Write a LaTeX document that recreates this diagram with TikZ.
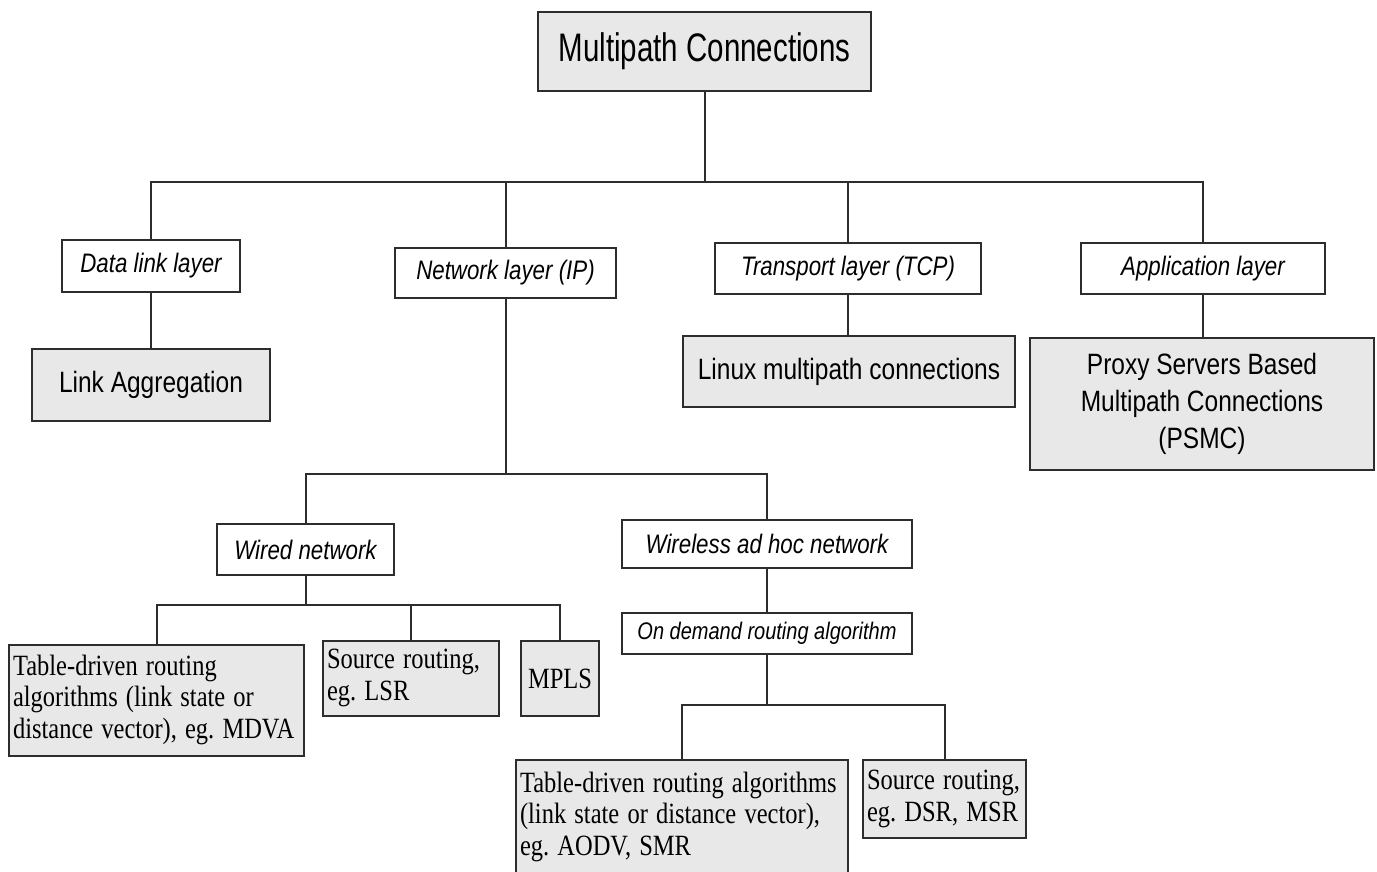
\documentclass[tikz,border=0pt]{standalone}
\usepackage{fontspec}
\setmainfont{Liberation Serif}
\setsansfont{Liberation Sans}
\usepackage{graphicx}
\frenchspacing
\definecolor{boxfill}{RGB}{232,232,232}
\definecolor{linecol}{RGB}{45,45,45}
% text is set slightly taller than wide
\newcommand{\vstretch}[2][1.2]{\scalebox{1}[#1]{#2}}
\newcommand{\linesL}[1]{\vstretch{\begin{tabular}{@{}l@{}}#1\end{tabular}}}
\newcommand{\linesC}[1]{\vstretch{\begin{tabular}{@{}c@{}}#1\end{tabular}}}

\begin{document}
\begin{tikzpicture}[x=1pt,y=-1pt,
  box/.style={draw=linecol, line width=1.8pt, rectangle, inner sep=0pt},
  greybox/.style={box, fill=boxfill},
  layer/.style={box, fill=white, font=\fontsize{22.3}{24}\sffamily\itshape},
  result/.style={greybox, font=\fontsize{24.5}{31}\sffamily},
  algo/.style={greybox, font=\fontsize{24.5}{26.5}\rmfamily, align=left, inner xsep=4pt},
  link/.style={draw=linecol, line width=2pt}
]
\useasboundingbox (0,0) rectangle (1377,871);

% root
\node[greybox, minimum width=333, minimum height=79, font=\fontsize{29.5}{33}\sffamily]
  (top) at (704.5,51.5) {\vstretch[1.35]{Multipath Connections}};

% layers
\node[layer, minimum width=178, minimum height=52] (dll) at (151,266) {\vstretch{Data link layer}};
\node[layer, minimum width=221, minimum height=50] (net) at (505.5,273) {\vstretch{Network layer (IP)}};
\node[layer, minimum width=266, minimum height=51] (trn) at (848,268.5) {\vstretch{Transport layer (TCP)}};
\node[layer, minimum width=244, minimum height=51] (app) at (1203,268.5) {\vstretch{Application layer}};

% approaches per layer
\node[result, minimum width=238, minimum height=72] (lagg) at (151,385) {\vstretch{Link Aggregation}};
\node[result, minimum width=332, minimum height=71] (linux) at (849,371.5) {\vstretch{Linux multipath connections}};
\node[result, minimum width=344, minimum height=132] (psmc) at (1202,404)
  {\linesC{Proxy Servers Based\\Multipath Connections\\(PSMC)}};

% network layer branches
\node[layer, minimum width=177, minimum height=51] (wired) at (305.5,549.5) {\vstretch{Wired network}};
\node[layer, minimum width=290, minimum height=48] (wless) at (767,544) {\vstretch{Wireless ad hoc network}};
\node[layer, minimum width=290, minimum height=41, font=\fontsize{20}{22}\sffamily\itshape]
  (odr) at (767,633.5) {\vstretch{On demand routing algorithm}};

% wired routing
\node[algo, text width=287, minimum height=111] (tdl) at (156.5,700.5)
  {\linesL{Table-driven routing\\algorithms (link state or\\distance vector), eg. MDVA}};
\node[algo, text width=168, minimum height=75] (srl) at (411,678.5)
  {\linesL{Source routing,\\eg. LSR}};
\node[greybox, minimum width=78, minimum height=75, font=\fontsize{24.5}{26.5}\rmfamily]
  (mpls) at (560,678.5) {\vstretch{MPLS}};

% on-demand routing
\node[algo, text width=324, minimum height=115] (tdb) at (682,817.5)
  {\linesL{Table-driven routing algorithms\\(link state or distance vector),\\eg. AODV, SMR}};
\node[algo, text width=155, minimum height=78] (srb) at (944.5,799)
  {\linesL{Source routing,\\eg. DSR, MSR}};

% connectors
\coordinate (busA) at (top.south |- 0,182);
\draw[link] (top.south) -- (busA);
\foreach \n in {dll,net,trn,app} \draw[link] (\n.north) |- (busA);
\draw[link] (dll.south) -- (lagg.north);
\draw[link] (trn.south) -- (trn.south |- linux.north);
\draw[link] (app.south) -- (app.south |- psmc.north);

\coordinate (busB) at (net.south |- 0,474);
\draw[link] (net.south) -- (busB);
\foreach \n in {wired,wless} \draw[link] (\n.north) |- (busB);

\coordinate (busC) at (wired.south |- 0,605);
\draw[link] (wired.south) -- (busC);
\foreach \n in {tdl,srl,mpls} \draw[link] (\n.north) |- (busC);

\draw[link] (wless.south) -- (odr.north);

\coordinate (busD) at (odr.south |- 0,705);
\draw[link] (odr.south) -- (busD);
\foreach \n in {tdb,srb} \draw[link] (\n.north) |- (busD);
\end{tikzpicture}
\end{document}
